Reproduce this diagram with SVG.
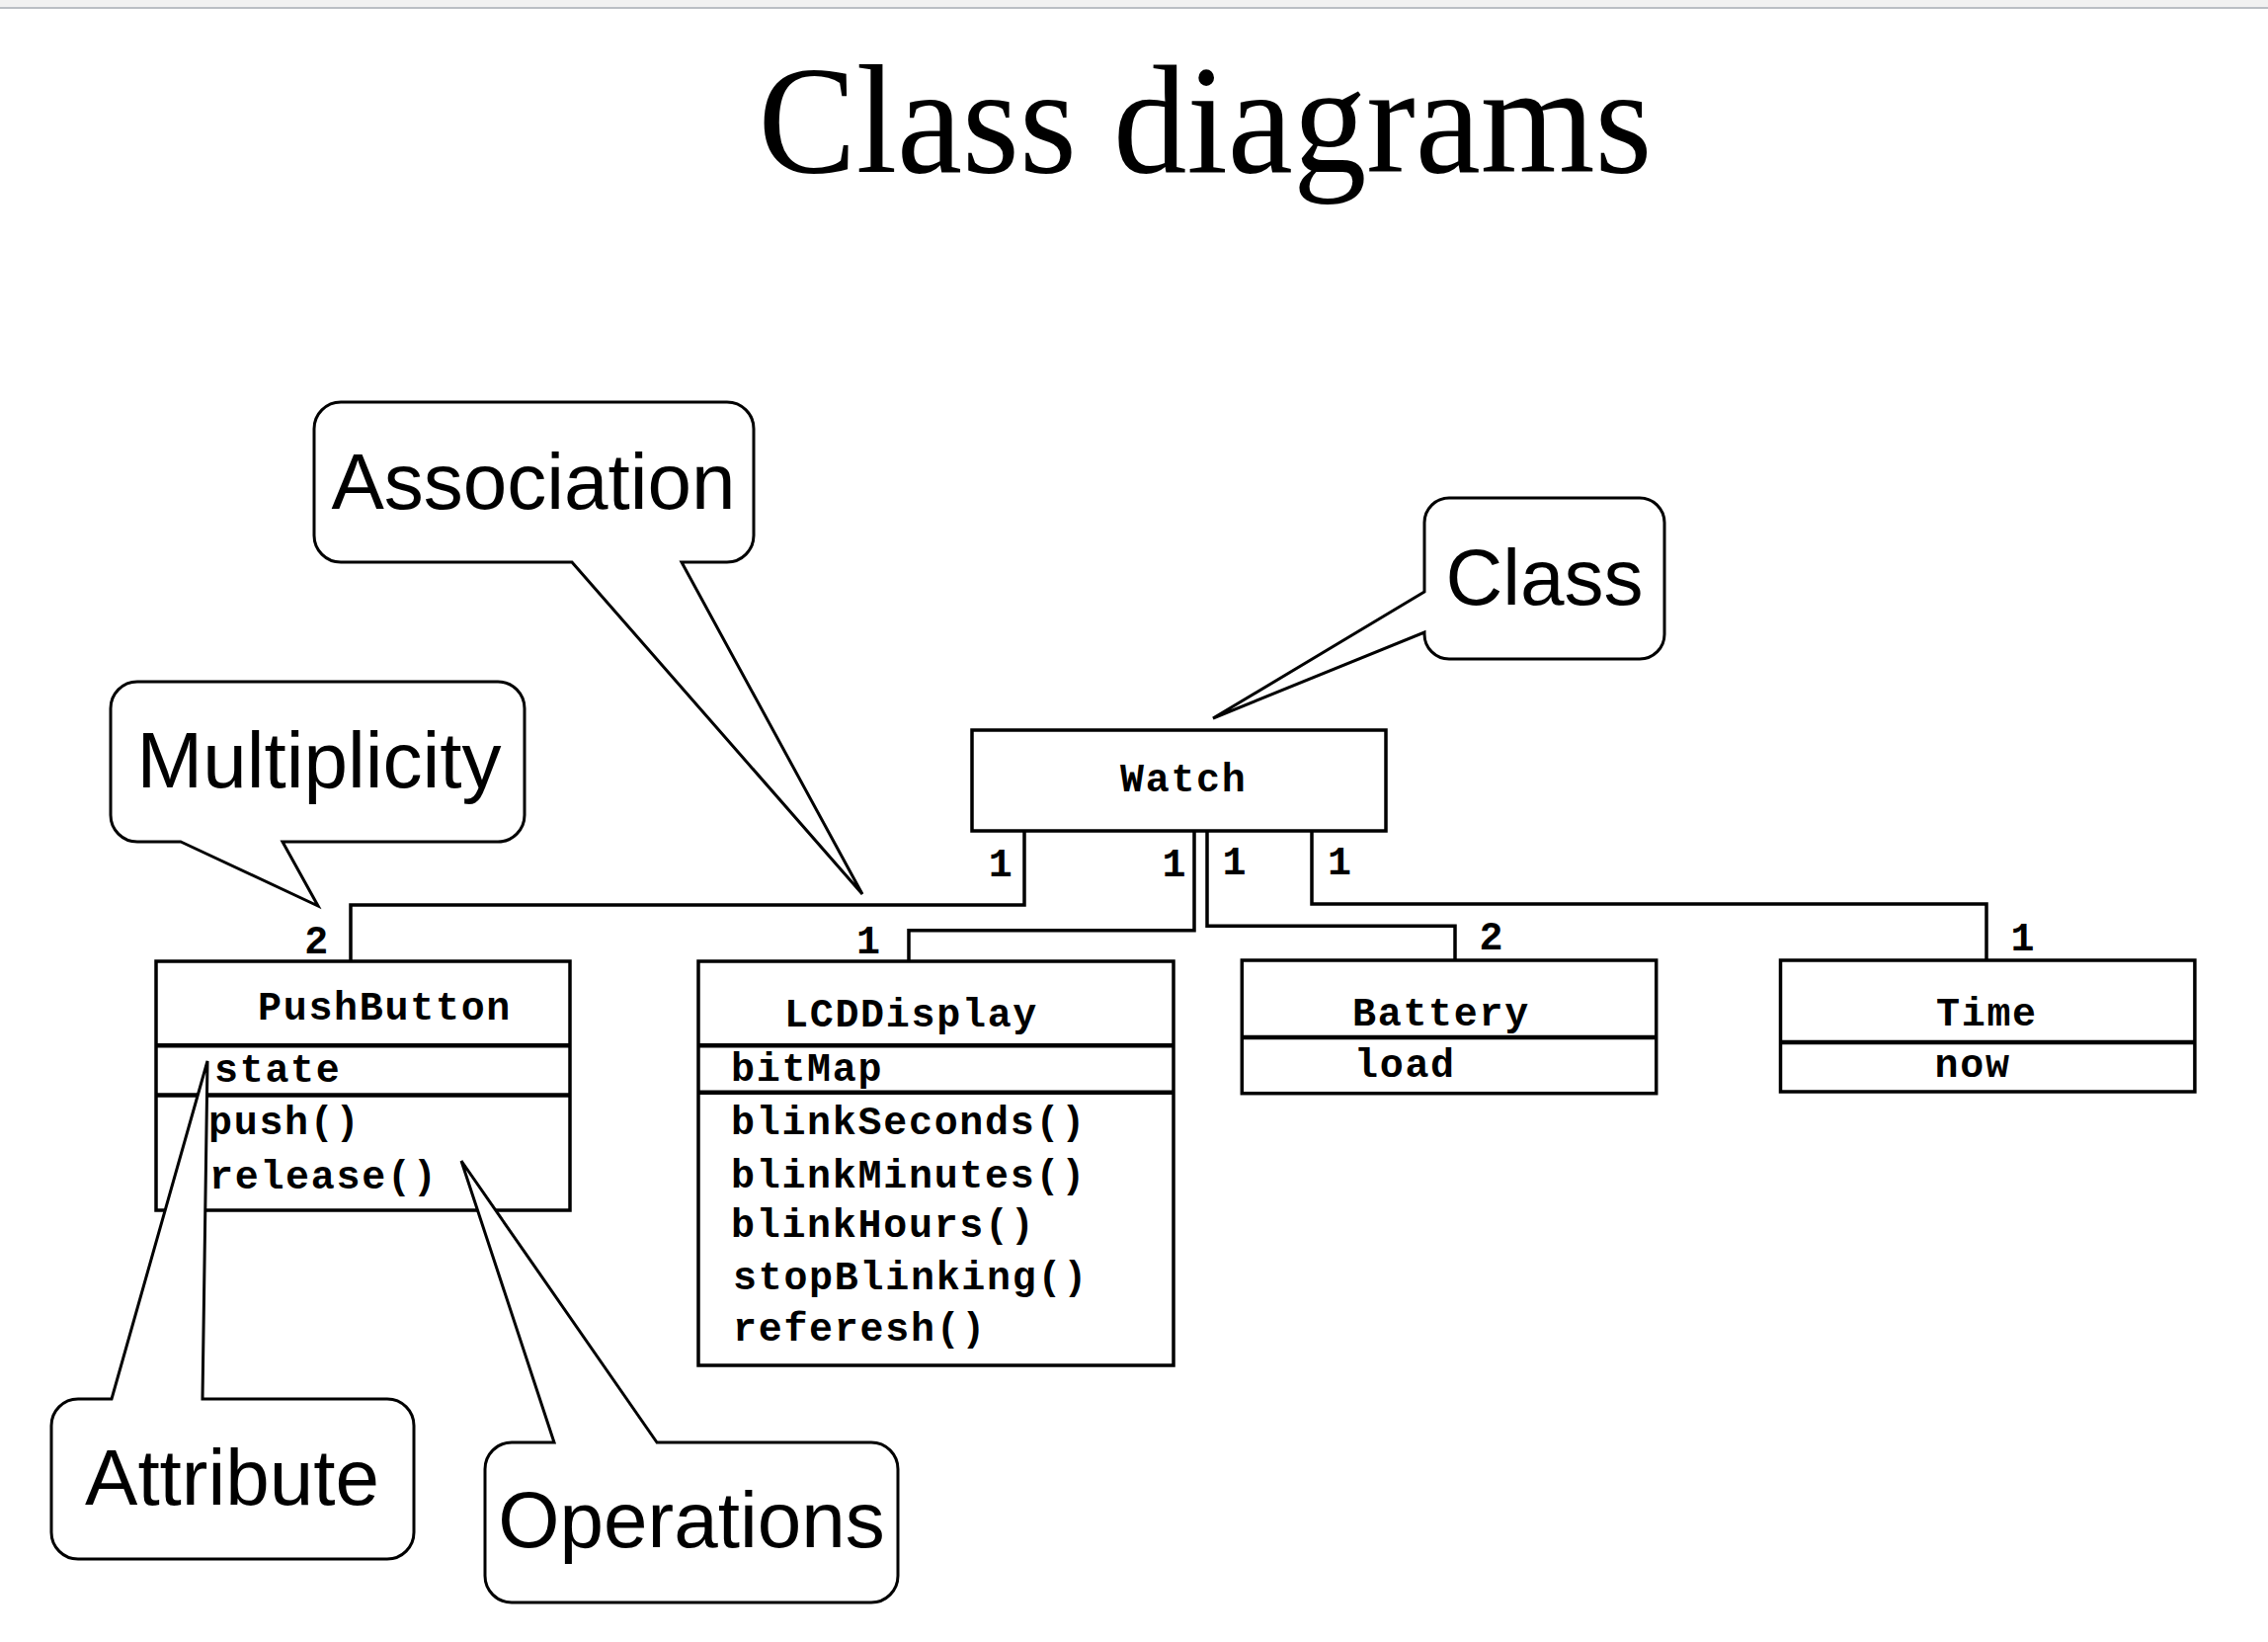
<svg xmlns="http://www.w3.org/2000/svg" width="2296" height="1662" viewBox="0 0 2296 1662">
<style>
.cb{fill:#fff;stroke:#000;stroke-width:3.5}
.dv{stroke:#000;stroke-width:4.5}
.mono{font-family:"Liberation Mono","Courier New",monospace;font-weight:bold;font-size:40px;letter-spacing:1.7px;fill:#000}
.mid{text-anchor:middle}
.call{fill:#fff;stroke:#000;stroke-width:3;stroke-linejoin:miter}
.ct{font-family:"Liberation Sans",Arial,sans-serif;font-size:80px;fill:#000;text-anchor:middle}
.conn{fill:none;stroke:#000;stroke-width:3.5}
</style>
<rect x="0" y="0" width="2296" height="1662" fill="#fff"/>
<rect x="0" y="0" width="2296" height="7" fill="#f1f1f1"/>
<rect x="0" y="7" width="2296" height="2" fill="#babec4"/>
<text x="1220" y="174" font-family="'Liberation Serif','Times New Roman',serif" font-size="156" text-anchor="middle" textLength="905" lengthAdjust="spacingAndGlyphs">Class diagrams</text>

<g id="connectors">
<path class="conn" d="M1037,841 V916 H355 V973"/>
<path class="conn" d="M1209,841 V941.7 H920 V973"/>
<path class="conn" d="M1222,841 V937.3 H1473 V972"/>
<path class="conn" d="M1328,841 V915 H2011 V972"/>
<text class="mono mid" x="1013.5" y="886.7">1</text>
<text class="mono mid" x="321.2" y="965">2</text>
<text class="mono mid" x="1189.3" y="886.7">1</text>
<text class="mono mid" x="879.8" y="965">1</text>
<text class="mono mid" x="1250.3" y="885">1</text>
<text class="mono mid" x="1510.3" y="961">2</text>
<text class="mono mid" x="1356.8" y="885">1</text>
<text class="mono mid" x="2048.3" y="962">1</text>
</g>

<g id="Watch">
<rect class="cb" x="984" y="739" width="419" height="102"/>
<text class="mono" x="1134" y="801">Watch</text>
</g>

<g id="PushButton">
<rect class="cb" x="158" y="973" width="419" height="252"/>
<line class="dv" x1="158" y1="1058.3" x2="577" y2="1058.3"/>
<line class="dv" x1="158" y1="1108.5" x2="577" y2="1108.5"/>
<text class="mono" x="261" y="1031.5">PushButton</text>
<text class="mono" x="217" y="1095">state</text>
<text class="mono" x="211" y="1148.3">push()</text>
<text class="mono" x="212" y="1203.3">release()</text>
</g>

<g id="LCDDisplay">
<rect class="cb" x="707" y="973" width="481" height="409"/>
<line class="dv" x1="707" y1="1058.3" x2="1188" y2="1058.3"/>
<line class="dv" x1="707" y1="1105.7" x2="1188" y2="1105.7"/>
<text class="mono" x="794" y="1038.5">LCDDisplay</text>
<text class="mono" x="740" y="1094">bitMap</text>
<text class="mono" x="740" y="1148.3">blinkSeconds()</text>
<text class="mono" x="740" y="1201.7">blinkMinutes()</text>
<text class="mono" x="740" y="1251.7">blinkHours()</text>
<text class="mono" x="742" y="1305">stopBlinking()</text>
<text class="mono" x="742" y="1356.7">referesh()</text>
</g>

<g id="Battery">
<rect class="cb" x="1257.3" y="972" width="419.4" height="134.7"/>
<line class="dv" x1="1257.3" y1="1050" x2="1676.7" y2="1050"/>
<text class="mono" x="1369" y="1038.3">Battery</text>
<text class="mono" x="1371" y="1090">load</text>
</g>

<g id="Time">
<rect class="cb" x="1802.5" y="972" width="419.4" height="133"/>
<line class="dv" x1="1802.5" y1="1055" x2="2221.9" y2="1055"/>
<text class="mono" x="1960" y="1038.3">Time</text>
<text class="mono" x="1958.5" y="1090">now</text>
</g>

<g id="callout-association">
<path class="call" d="M579,569 L873,905 L690,569 L736,569 A27,27 0 0 0 763,542 L763,434 A27,27 0 0 0 736,407 L345,407 A27,27 0 0 0 318,434 L318,542 A27,27 0 0 0 345,569 Z"/>
<text class="ct" x="540" y="515">Association</text>
</g>

<g id="callout-multiplicity">
<path class="call" d="M183,852 L322,917 L286,852 L504,852 A27,27 0 0 0 531,825 L531,717 A27,27 0 0 0 504,690 L139,690 A27,27 0 0 0 112,717 L112,825 A27,27 0 0 0 139,852 Z"/>
<text class="ct" x="323" y="797">Multiplicity</text>
</g>

<g id="callout-class">
<path class="call" d="M1442,599 L1228,727 L1442,640 L1442,642 A25,25 0 0 0 1467,667 L1660,667 A25,25 0 0 0 1685,642 L1685,529 A25,25 0 0 0 1660,504 L1467,504 A25,25 0 0 0 1442,529 Z"/>
<text class="ct" x="1563.5" y="612">Class</text>
</g>

<g id="callout-attribute">
<path class="call" d="M205,1416 L210,1074 L113,1416 L79,1416 A27,27 0 0 0 52,1443 L52,1551 A27,27 0 0 0 79,1578 L392,1578 A27,27 0 0 0 419,1551 L419,1443 A27,27 0 0 0 392,1416 Z"/>
<text class="ct" x="235" y="1523">Attribute</text>
</g>

<g id="callout-operations">
<path class="call" d="M665,1460 L467,1175 L561,1460 L518,1460 A27,27 0 0 0 491,1487 L491,1595 A27,27 0 0 0 518,1622 L882,1622 A27,27 0 0 0 909,1595 L909,1487 A27,27 0 0 0 882,1460 Z"/>
<text class="ct" x="700" y="1566">Operations</text>
</g>
</svg>
